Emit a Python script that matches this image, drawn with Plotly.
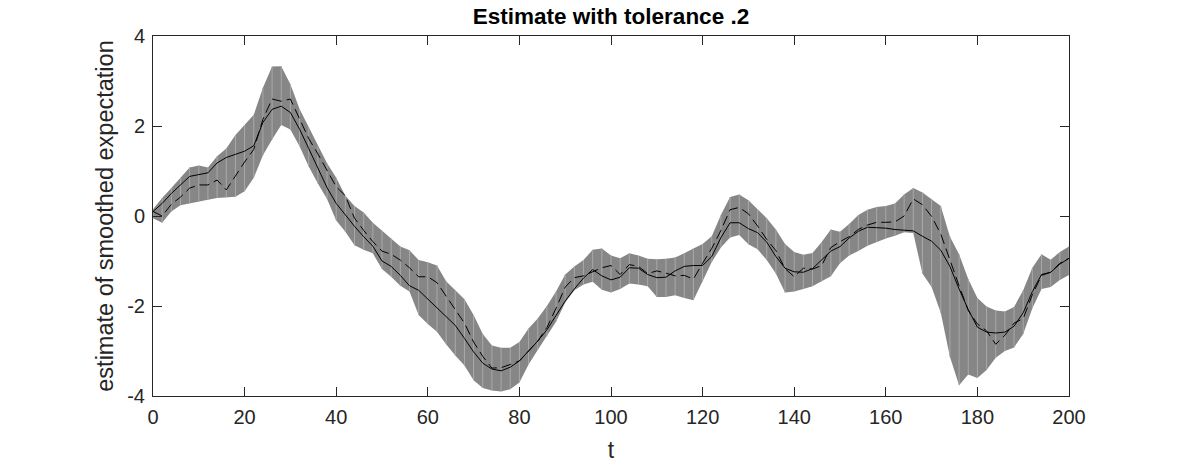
import numpy as np
import plotly.graph_objects as go

t = list(range(0, 201, 2))

truth = [0.10, 0.28, 0.50, 0.70, 0.88, 0.92, 0.96, 1.18, 1.30, 1.37,
         1.44, 1.56, 2.08, 2.37, 2.44, 2.30, 1.93, 1.50, 1.06, 0.63,
         0.28, 0.02, -0.23, -0.46, -0.67, -1.00, -1.12, -1.32, -1.55, -1.65,
         -1.85, -2.05, -2.24, -2.43, -2.72, -3.02, -3.27, -3.40, -3.44, -3.36,
         -3.22, -3.01, -2.78, -2.53, -2.20, -1.89, -1.62, -1.38, -1.19, -1.33,
         -1.42, -1.36, -1.15, -1.16, -1.30, -1.37, -1.36, -1.22, -1.12, -1.10,
         -1.10, -0.90, -0.48, -0.15, -0.15, -0.28, -0.37, -0.58, -0.90, -1.16,
         -1.24, -1.25, -1.17, -0.97, -0.78, -0.68, -0.49, -0.34, -0.25, -0.26,
         -0.27, -0.30, -0.31, -0.33, -0.45, -0.56, -0.76, -1.12, -1.62, -2.08,
         -2.47, -2.58, -2.60, -2.58, -2.45, -2.15, -1.68, -1.30, -1.25, -1.07,
         -0.94]

upper = [0.15, 0.40, 0.62, 0.85, 1.08, 1.12, 1.08, 1.33, 1.50, 1.80,
         2.02, 2.25, 2.85, 3.32, 3.33, 2.93, 2.38, 1.98, 1.56, 1.17,
         0.85, 0.45, 0.22, 0.08, -0.15, -0.32, -0.50, -0.68, -0.76, -0.98,
         -1.03, -1.10, -1.45, -1.65, -1.85, -2.20, -2.62, -2.88, -2.93, -2.93,
         -2.80, -2.50, -2.28, -2.00, -1.68, -1.30, -1.12, -0.98, -0.75, -0.72,
         -0.88, -0.94, -0.83, -0.88, -0.95, -0.96, -0.95, -0.92, -0.83, -0.72,
         -0.62, -0.45, 0.02, 0.42, 0.48, 0.35, 0.15, -0.05, -0.30, -0.62,
         -0.80, -0.86, -0.82, -0.58, -0.30, -0.35, -0.18, 0.02, 0.14, 0.20,
         0.22, 0.28, 0.48, 0.62, 0.52, 0.38, 0.22, -0.46, -0.85, -1.40,
         -1.82, -2.01, -2.10, -2.12, -2.02, -1.65, -1.15, -0.85, -0.97, -0.80,
         -0.68]

lower = [-0.05, -0.15, 0.10, 0.24, 0.28, 0.32, 0.36, 0.40, 0.41, 0.43,
         0.55, 0.85, 1.35, 1.70, 2.02, 1.92, 1.55, 1.10, 0.72, 0.38,
         -0.10, -0.35, -0.65, -0.75, -0.83, -1.18, -1.35, -1.55, -1.68, -2.20,
         -2.40, -2.57, -2.85, -3.10, -3.32, -3.65, -3.82, -3.88, -3.90, -3.85,
         -3.70, -3.30, -2.98, -2.68, -2.35, -1.92, -1.65, -1.52, -1.46, -1.64,
         -1.70, -1.62, -1.50, -1.52, -1.56, -1.80, -1.80, -1.76, -1.82, -1.87,
         -1.46, -1.02, -0.70, -0.48, -0.42, -0.63, -0.74, -0.98, -1.28, -1.70,
         -1.68, -1.62, -1.56, -1.45, -1.34, -1.05, -0.88, -0.78, -0.66, -0.58,
         -0.50, -0.44, -0.36, -0.38, -1.28, -1.58, -2.15, -3.13, -3.76, -3.52,
         -3.60, -3.42, -3.15, -3.00, -2.92, -2.62, -2.05, -1.62, -1.58, -1.42,
         -1.31]

estimate = [0.10, 0.00, 0.26, 0.42, 0.62, 0.69, 0.69, 0.80, 0.58, 0.90,
            1.20, 1.48, 2.15, 2.60, 2.55, 2.60, 2.15, 1.72, 1.38, 1.00,
            0.65, 0.45, -0.05, -0.32, -0.57, -0.78, -0.85, -0.98, -1.15, -1.35,
            -1.35, -1.48, -1.78, -2.08, -2.38, -2.80, -3.12, -3.38, -3.37, -3.30,
            -3.22, -3.00, -2.78, -2.48, -2.05, -1.58, -1.37, -1.33, -1.24, -1.15,
            -1.10, -1.30, -1.08, -1.12, -1.28, -1.22, -1.27, -1.33, -1.32, -1.40,
            -1.05, -0.72, -0.32, 0.14, 0.19, 0.05, -0.22, -0.52, -0.77, -1.17,
            -1.35, -1.16, -1.18, -1.10, -0.70, -0.57, -0.46, -0.30, -0.20, -0.14,
            -0.14, -0.13, 0.00, 0.38, 0.25, -0.01, -0.40, -1.00, -1.55, -2.10,
            -2.40, -2.55, -2.85, -2.65, -2.38, -2.28, -1.75, -1.32, -1.25, -1.05,
            -0.94]

x_ticks = list(range(0, 201, 20))
y_ticks = [-4, -2, 0, 2, 4]
y_tick_labels = ["-4", "-2", "0", "2", "4"]

FONT = "Liberation Sans, Arial, Helvetica, sans-serif"
AXC = "#262626"

fig = go.Figure()

# tolerance band
fig.add_trace(go.Scatter(
    x=t + t[::-1], y=upper + lower[::-1],
    fill="toself", fillcolor="#868686",
    line=dict(width=0), mode="lines", hoverinfo="skip", showlegend=False))

# light vertical stripes in the band
sx, sy = [], []
for ti, u, l in zip(t, upper, lower):
    sx += [ti, ti, None]
    sy += [l, u, None]
fig.add_trace(go.Scatter(x=sx, y=sy, mode="lines",
                         line=dict(color="#a9a9a9", width=1),
                         hoverinfo="skip", showlegend=False))

fig.add_trace(go.Scatter(x=t, y=truth, mode="lines",
                         line=dict(color="black", width=1),
                         showlegend=False))
fig.add_trace(go.Scatter(x=t, y=estimate, mode="lines",
                         line=dict(color="black", width=1, dash="10px,5px"),
                         showlegend=False))

fig.update_layout(
    width=1182, height=465,
    margin=dict(l=153, r=113, t=36, b=69),
    paper_bgcolor="white", plot_bgcolor="white",
    font=dict(family=FONT, size=20, color=AXC),
    title=dict(text="<b>Estimate with tolerance .2</b>", x=0.5, xref="paper",
               xanchor="center", y=1 - 16 / 465, yref="container",
               yanchor="middle",
               font=dict(family=FONT, size=22.5, color="black")),
)
fig.update_xaxes(range=[0, 200], tickvals=x_ticks, ticks="inside", ticklen=9,
                 tickcolor=AXC, showline=True, linecolor=AXC, linewidth=1,
                 mirror="ticks", showgrid=False, zeroline=False,
                 ticklabelstandoff=3, automargin=False,
                 title=dict(text="t", font=dict(size=23), standoff=14))
fig.update_yaxes(range=[-4, 4], tickvals=y_ticks, ticktext=y_tick_labels,
                 ticks="inside", ticklen=9,
                 tickcolor=AXC, showline=True, linecolor=AXC, linewidth=1,
                 mirror="ticks", showgrid=False, zeroline=False,
                 ticklabelstandoff=3, automargin=False,
                 title=dict(text="estimate of smoothed expectation",
                            font=dict(size=23.5), standoff=6))

fig.write_html("out.html")
